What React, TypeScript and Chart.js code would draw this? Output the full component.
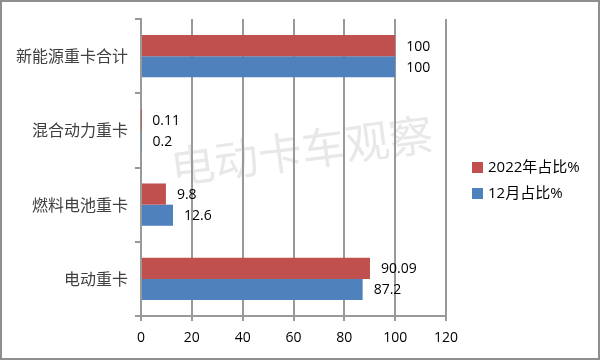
import React, { useEffect, useRef } from "react";
import { Chart, registerables } from "chart.js";

Chart.register(...registerables);

const categories = ["新能源重卡合计", "混合动力重卡", "燃料电池重卡", "电动重卡"];
const series2022 = [100, 0.11, 9.8, 90.09];
const seriesDec = [100, 0.2, 12.6, 87.2];
const seriesNames = ["2022年占比%", "12月占比%"];
const seriesColors = ["#C0504D", "#4F81BD"];
const xTicks = [0, 20, 40, 60, 80, 100, 120];
const watermark = "电动卡车观察";

const FONT = "'Open Sans', 'Noto Sans CJK SC', sans-serif";

export default function App() {
  const ref = useRef<HTMLCanvasElement | null>(null);

  useEffect(() => {
    document.body.style.margin = "0";
    const canvas = ref.current!;
    const bgPlugin = {
      id: "bg",
      beforeDraw(chart: any) {
        const ctx = chart.ctx;
        ctx.save();
        ctx.fillStyle = "#ffffff";
        ctx.fillRect(0, 0, chart.width, chart.height);
        ctx.strokeStyle = "#8f8f8f";
        ctx.lineWidth = 2;
        ctx.strokeRect(1, 1, chart.width - 2, chart.height - 2);
        // watermark
        ctx.translate(173, 184);
        ctx.rotate((-7.5 * Math.PI) / 180);
        ctx.fillStyle = "#e8e8e8";
        ctx.font = "44px 'Noto Sans CJK SC', sans-serif";
        ctx.textBaseline = "alphabetic";
        ctx.textAlign = "left";
        ctx.fillText(watermark, 0, 0);
        ctx.restore();
      },
    };
    const labelPlugin = {
      id: "labels",
      afterDatasetsDraw(chart: any) {
        const ctx = chart.ctx;
        ctx.save();
        ctx.font = `14px ${FONT}`;
        ctx.fillStyle = "#000000";
        ctx.textAlign = "left";
        ctx.textBaseline = "middle";
        chart.data.datasets.forEach((ds: any, i: number) => {
          const meta = chart.getDatasetMeta(i);
          meta.data.forEach((bar: any, j: number) => {
            ctx.fillText(String(ds.data[j]), bar.x + 11, bar.y + 1);
          });
        });
        ctx.restore();
      },
      afterDraw(chart: any) {
        const ctx = chart.ctx;
        ctx.save();
        ctx.font = `15px ${FONT}`;
        ctx.textAlign = "left";
        ctx.textBaseline = "middle";
        const ys = [167, 193];
        chart.data.datasets.forEach((ds: any, i: number) => {
          ctx.fillStyle = ds.backgroundColor;
          ctx.fillRect(472, ys[i] - 5, 11, 11);
          ctx.fillStyle = "#000000";
          ctx.fillText(ds.label, 488, ys[i] + 1);
        });
        ctx.restore();
      },
    };

    const chart = new Chart(canvas, {
      type: "bar",
      data: {
        labels: categories,
        datasets: [
          { label: seriesNames[0], data: series2022, backgroundColor: seriesColors[0] },
          { label: seriesNames[1], data: seriesDec, backgroundColor: seriesColors[1] },
        ],
      },
      options: {
        indexAxis: "y",
        responsive: false,
        animation: false,
        devicePixelRatio: 1,
        layout: { padding: { top: 19, right: 154, bottom: 0, left: 0 } },
        datasets: { bar: { categoryPercentage: 0.57, barPercentage: 1 } },
        plugins: { legend: { display: false }, tooltip: { enabled: false } },
        scales: {
          x: {
            min: 0,
            max: 120,
            afterBuildTicks(scale: any) {
              scale.ticks = xTicks.map((v) => ({ value: v }));
            },
            afterFit(scale: any) {
              scale.height = 44;
            },
            grid: { color: "#999999", lineWidth: 2, tickLength: 5, drawTicks: true },
            border: { color: "#999999", width: 2 },
            ticks: { font: { size: 14, family: FONT }, color: "#000000", padding: 9 },
          },
          y: {
            afterFit(scale: any) {
              scale.width = 141;
            },
            grid: { offset: true, drawOnChartArea: false, tickLength: 6, color: "#999999", lineWidth: 2 },
            border: { color: "#999999", width: 2 },
            ticks: { font: { size: 16, family: "'Noto Sans CJK SC', sans-serif" }, color: "#404040", padding: 7 },
          },
        },
      },
      plugins: [bgPlugin, labelPlugin],
    });
    return () => chart.destroy();
  }, []);

  return <canvas ref={ref} width={600} height={360} style={{ display: "block" }} />;
}
